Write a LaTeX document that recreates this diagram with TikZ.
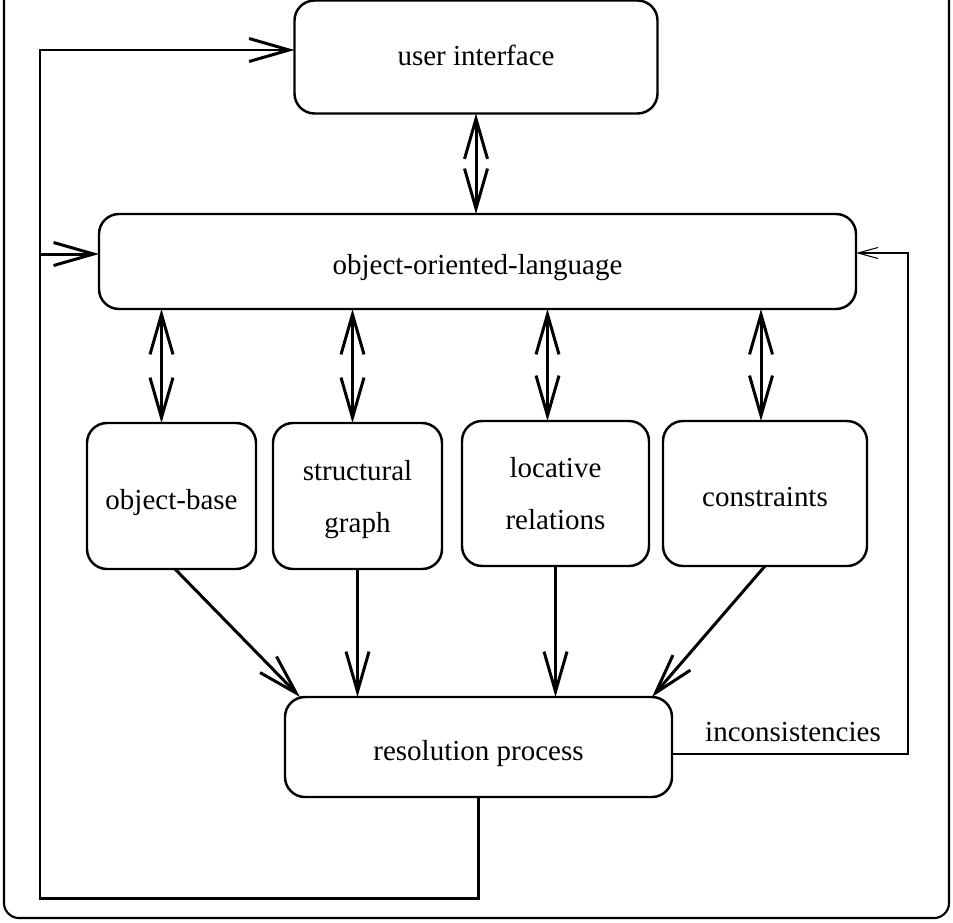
\documentclass[tikz,border=0pt]{standalone}
\usepackage{fontspec}
\setmainfont{Liberation Serif}
\usetikzlibrary{arrows.meta}

\begin{document}
\begin{tikzpicture}[inner sep=0pt,outer sep=0pt,line width=1.7pt,
>={Straight Barb[length=0.8cm,width=0.46cm]},
font=\fontsize{16.5}{29.6}\selectfont,
block/.style={draw,rectangle,rounded corners=0.4cm,line width=1.4pt,align=center,text depth=0pt},
flat/.style={align=none,text height=1.5em},
feedback/.style={line width=0.6pt,-{Straight Barb[length=0.4cm,width=0.22cm]}}]
\useasboundingbox (0,0) rectangle (19.06,-18.44);
\draw[line width=1.2pt,rounded corners=0.3cm] (0.08,0.6) rectangle (18.98,-18.36);

\draw (9.52,-1.14) node[block,flat,text height=1em,minimum width=7.26cm,minimum height=2.26cm] (UI) {user interface};
\draw (9.55,-5.23) node[block,flat,minimum width=15.14cm,minimum height=1.9cm] (OOL) {object-oriented-language};

\draw (3.43,-9.92) node[block,flat,minimum width=3.38cm,minimum height=2.92cm] (OB) {object-base};
\draw (7.15,-9.92) node[block,minimum width=3.38cm,minimum height=2.92cm] (SG) {structural\\graph};
\draw (11.11,-9.87) node[block,minimum width=3.74cm,minimum height=2.9cm] (LR) {locative\\relations};
\draw (15.3,-9.87) node[block,flat,minimum width=4.08cm,minimum height=2.9cm] (CO) {constraints};

\draw (9.57,-14.94) node[block,flat,minimum width=7.74cm,minimum height=2cm] (RP) {resolution process};
\draw (15.86,-14.64) node (INC) {inconsistencies};

% two-way links to the language
\draw[<->] (UI.south) -- (UI.south |- OOL.north);
\draw[<->] ([xshift=-0.2cm]OOL.south -| OB.north) -- ([xshift=-0.2cm]OB.north);
\draw[<->] ([xshift=-0.1cm]OOL.south -| SG.north) -- ([xshift=-0.1cm]SG.north);
\draw[<->] ([xshift=-0.16cm]OOL.south -| LR.north) -- ([xshift=-0.16cm]LR.north);
\draw[<->] ([xshift=-0.08cm]OOL.south -| CO.north) -- ([xshift=-0.08cm]CO.north);

% into the resolution
\draw[->] ([xshift=0.07cm]OB.south) -- ([xshift=0.3cm]RP.north west);
\draw[->] (SG.south) -- (SG.south |- RP.north);
\draw[->] (LR.south) -- (LR.south |- RP.north);
\draw[->] (CO.south) -- ([xshift=-0.4cm]RP.north east);

% result loop
\coordinate (loop) at (0.8,-17.96);
\draw[->] (RP.south) |- (loop) |- ([yshift=0.14cm]UI.west);
\draw[->] (loop |- OOL.west) ++(0,0.15) -- ([yshift=0.15cm]OOL.west);

\coordinate (ret) at (18.16,-5.06);
\draw[feedback] ([yshift=-0.14cm]RP.east) -| (ret) -- (ret -| OOL.east);
\end{tikzpicture}
\end{document}
